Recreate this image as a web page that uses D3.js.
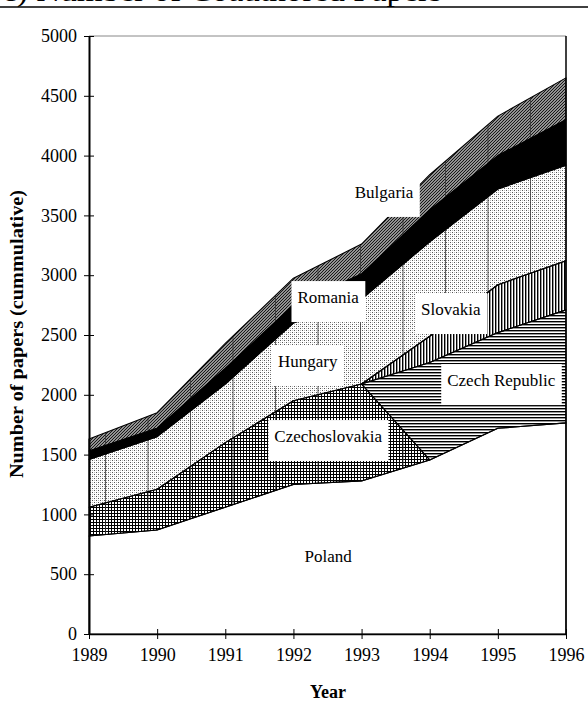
<html>
<script src='https://d3js.org/d3.v7.min.js'></script>
<style>
body { margin: 0; background: #fff; }
text { font-family: 'Liberation Serif', 'Times New Roman', serif; }
</style>
<body>
<svg width=588 height=705></svg>
<script>
// papers per country (not cumulative), null = country did not exist
var years = [1989, 1990, 1991, 1992, 1993, 1994, 1995, 1996];
var countries = ["Poland", "Czechoslovakia", "Czech Republic", "Slovakia", "Hungary", "Romania", "Bulgaria"];
var poland         = [820, 870, 1060, 1250, 1280, 1455, 1720, 1765];
var czechoslovakia = [240, 340, 540, 700, 810, 0, null, null];
var czechRepublic  = [null, null, null, null, 0, 815, 800, 945];
var slovakia       = [null, null, null, null, 0, 220, 400, 410];
var hungary        = [400, 440, 490, 650, 710, 790, 800, 800];
var romania        = [70, 70, 130, 150, 210, 265, 280, 380];
var bulgaria       = [100, 130, 210, 225, 250, 295, 330, 350];
var yTicks = [0, 500, 1000, 1500, 2000, 2500, 3000, 3500, 4000, 4500, 5000];

// where the white name boxes sit, in year / paper units
var labelSpots = [
  {name: "Bulgaria", year: 1993.33, value: 3646, box: true},
  {name: "Romania", year: 1992.51, value: 2767, box: true},
  {name: "Hungary", year: 1992.21, value: 2232, box: true},
  {name: "Slovakia", year: 1994.31, value: 2667, box: true},
  {name: "Czech Republic", year: 1995.05, value: 2073, box: true},
  {name: "Czechoslovakia", year: 1992.51, value: 1605, box: true},
  {name: "Poland", year: 1992.51, value: 602, box: false}
];

var series = {"Poland": poland, "Czechoslovakia": czechoslovakia, "Czech Republic": czechRepublic,
              "Slovakia": slovakia, "Hungary": hungary, "Romania": romania, "Bulgaria": bulgaria};
var rows = years.map(function(y, i) {
  var r = {year: y};
  countries.forEach(function(c) { r[c] = series[c][i]; });
  return r;
});

var svg = d3.select("svg");
var x = d3.scaleLinear().domain([1989, 1996]).range([89, 566]);
var y = d3.scaleLinear().domain([0, 5000]).range([634, 36]);

// fill patterns
var defs = svg.append("defs");
function pat(id, w, h, draw) {
  var p = defs.append("pattern").attr("id", id).attr("patternUnits", "userSpaceOnUse")
    .attr("width", w).attr("height", h);
  p.append("rect").attr("width", w).attr("height", h).attr("fill", "#fff");
  draw(p);
  return p;
}
pat("grid", 3, 3, function(p) {
  p.append("rect").attr("width", 3).attr("height", 1).attr("fill", "#000");
  p.append("rect").attr("width", 1).attr("height", 3).attr("fill", "#000");
});
pat("hlines", 3, 3, function(p) {
  p.append("rect").attr("width", 3).attr("height", 1.4).attr("fill", "#000");
});
pat("vlines", 3, 3, function(p) {
  p.append("rect").attr("width", 1.4).attr("height", 3).attr("fill", "#000");
});
pat("dots", 4, 4, function(p) {
  p.append("rect").attr("x", 0).attr("y", 0).attr("width", 1).attr("height", 1).attr("fill", "#555");
  p.append("rect").attr("x", 2).attr("y", 2).attr("width", 1).attr("height", 1).attr("fill", "#555");
  p.append("rect").attr("x", 2).attr("y", 0).attr("width", 1).attr("height", 1).attr("fill", "#bbb");
  p.append("rect").attr("x", 0).attr("y", 2).attr("width", 1).attr("height", 1).attr("fill", "#bbb");
});
pat("diag", 3, 3, function(p) {
  p.append("rect").attr("width", 3).attr("height", 3).attr("fill", "#ccc");
  p.append("path").attr("d", "M-1,1 L1,-1 M0,3 L3,0 M2,4 L4,2").attr("stroke", "#111").attr("stroke-width", 1.2);
});
var grain = defs.append("pattern").attr("id", "grain").attr("patternUnits", "userSpaceOnUse")
  .attr("width", 42.5).attr("height", 10).attr("patternTransform", "translate(105,0)");
grain.append("rect").attr("width", 1).attr("height", 10).attr("fill", "#333");

var fills = {"Poland": "#fff", "Czechoslovakia": "url(#grid)", "Czech Republic": "url(#hlines)",
             "Slovakia": "url(#vlines)", "Hungary": "url(#dots)", "Romania": "#000", "Bulgaria": "url(#diag)"};

var stack = d3.stack().keys(countries).value(function(d, k) { return d[k] == null ? 0 : d[k]; });
var layers = stack(rows);

var curKey;
var area = d3.area()
  .defined(function(d) { return d.data[curKey] != null; })
  .x(function(d) { return x(d.data.year); })
  .y0(function(d) { return y(d[0]); })
  .y1(function(d) { return y(d[1]); });
function areaPath(l) {
  curKey = l.key;
  return area(l);
}

var g = svg.append("g");
g.selectAll("path.fill").data(layers).enter().append("path")
  .attr("class", "fill")
  .attr("d", areaPath)
  .attr("fill", function(l) { return fills[l.key]; });

// the faint vertical streaks of the scanned fills
g.selectAll("path.grain").data(layers.filter(function(l) {
    return ["Czechoslovakia", "Hungary", "Bulgaria"].indexOf(l.key) >= 0; }))
  .enter().append("path")
  .attr("d", areaPath)
  .attr("fill", "url(#grain)").attr("opacity", 0.8);

g.selectAll("path.edge").data(layers).enter().append("path")
  .attr("d", areaPath)
  .attr("fill", "none").attr("stroke", "#000").attr("stroke-width", 1.1).attr("stroke-linejoin", "round");

// frame
svg.append("line").attr("x1", x(1989)).attr("x2", x(1996)).attr("y1", y(5000)).attr("y2", y(5000))
  .attr("stroke", "#888").attr("stroke-width", 1);
svg.append("line").attr("x1", x(1996)).attr("x2", x(1996)).attr("y1", y(5000)).attr("y2", y(0))
  .attr("stroke", "#000").attr("stroke-width", 1.5);

// axes
var yAxis = d3.axisLeft(y).tickValues(yTicks).tickFormat(d3.format("d"))
  .tickSizeInner(5).tickSizeOuter(0).tickPadding(7);
var ya = svg.append("g").attr("transform", "translate(" + x(1989) + ",0)").call(yAxis);
ya.selectAll(".tick line").attr("x1", 5).attr("stroke", "#000");
ya.select(".domain").attr("stroke", "#000").attr("stroke-width", 2);
ya.selectAll("text").attr("font-size", 18).attr("font-family", "Liberation Serif").attr("fill", "#000");

var xAxis = d3.axisBottom(x).tickValues(years).tickFormat(d3.format("d"))
  .tickSizeInner(5).tickSizeOuter(0).tickPadding(9);
var xa = svg.append("g").attr("transform", "translate(0," + y(0) + ")").call(xAxis);
xa.selectAll(".tick line").attr("y1", -5).attr("stroke", "#000");
xa.select(".domain").attr("stroke", "#000").attr("stroke-width", 1.5);
xa.selectAll("text").attr("font-size", 18).attr("font-family", "Liberation Serif").attr("fill", "#000");

svg.append("text").attr("x", 328).attr("y", 698).attr("text-anchor", "middle")
  .attr("font-size", 18).attr("font-weight", "bold").text("Year");
svg.append("text").attr("transform", "translate(23,334) rotate(-90)").attr("text-anchor", "middle")
  .attr("font-size", 18).attr("font-weight", "bold")
  .attr("textLength", 288).attr("lengthAdjust", "spacingAndGlyphs")
  .text("Number of papers (cummulative)");

// name boxes
labelSpots.forEach(function(s) {
  var lg = svg.append("g");
  var t = lg.append("text").attr("x", x(s.year)).attr("y", y(s.value)).attr("text-anchor", "middle")
    .attr("font-size", 17).attr("font-family", "Liberation Serif").text(s.name);
  if (s.box) {
    var b = t.node().getBBox();
    lg.insert("rect", "text").attr("x", b.x - 6).attr("y", y(s.value) - 22)
      .attr("width", b.width + 12).attr("height", 41).attr("fill", "#fff");
  }
});

// heading above the chart, mostly outside the page as in the source
svg.append("text").attr("x", 2).attr("y", 1).attr("font-size", 30)
  .attr("textLength", 440).attr("lengthAdjust", "spacingAndGlyphs")
  .text("c) Number of Coauthored Papers");
svg.append("line").attr("x1", 0).attr("x2", 588).attr("y1", 7).attr("y2", 7).attr("stroke", "#000").attr("stroke-width", 1.5);
</script>
</body>
</html>
